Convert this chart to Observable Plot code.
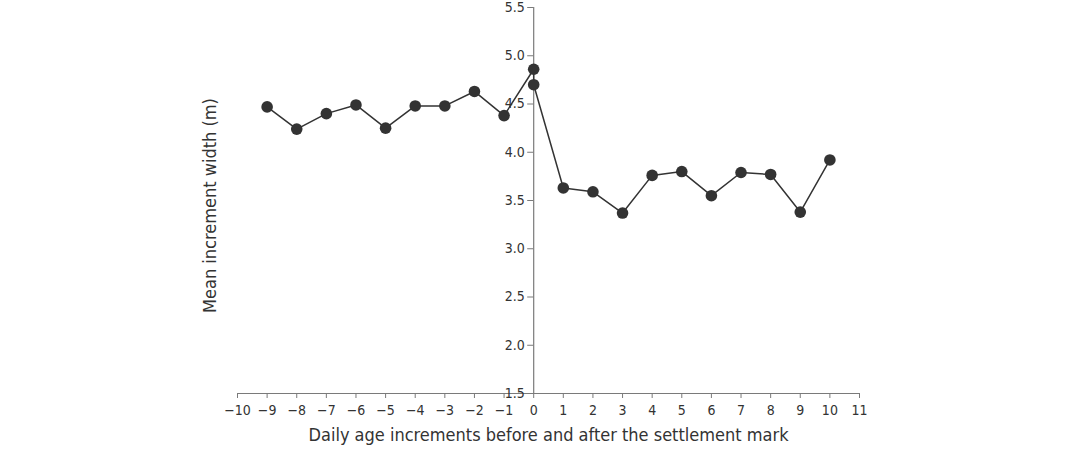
<!DOCTYPE html>
<html>
<head>
<meta charset="utf-8">
<script src="https://cdn.jsdelivr.net/npm/d3@7"></script>
<script src="https://cdn.jsdelivr.net/npm/@observablehq/plot@0.6"></script>
<style>
  html, body { margin: 0; padding: 0; background: #fff; }
  #chart svg { display: block; }
</style>
</head>
<body>
<div id="chart"></div>
<script>
const dayIncrement = [-9, -8, -7, -6, -5, -4, -3, -2, -1, 0, 0, 1, 2, 3, 4, 5, 6, 7, 8, 9, 10];
const meanWidth = [4.47, 4.24, 4.40, 4.49, 4.25, 4.48, 4.48, 4.63, 4.38, 4.86, 4.70, 3.63, 3.59, 3.37, 3.76, 3.80, 3.55, 3.79, 3.77, 3.38, 3.92];
const xTicks = d3.range(-10, 12, 1);
const yTicks = [1.5, 2.0, 2.5, 3.0, 3.5, 4.0, 4.5, 5.0, 5.5];
const xTitle = "Daily age increments before and after the settlement mark";
const yTitle = "Mean increment width (m)";

const data = dayIncrement.map((d, i) => ({x: d, y: meanWidth[i]}));

const font = "'Liberation Sans Narrow', 'DejaVu Sans Condensed', 'Roboto Condensed', sans-serif";
const ink = "#333";
const axisGray = "#7a7a7a";

const chart = Plot.plot({
  width: 1065,
  height: 463,
  marginLeft: 237,
  marginRight: 206,
  marginTop: 7,
  marginBottom: 70,
  style: {fontFamily: font, fontSize: "14px", color: ink, background: "#fff"},
  x: {domain: [-10, 11], axis: null},
  y: {domain: [1.5, 5.5], axis: null},
  marks: [
    Plot.ruleY([1.5], {stroke: axisGray, strokeWidth: 1.2}),
    Plot.ruleX([0], {y1: 1.5, y2: 5.5, stroke: axisGray, strokeWidth: 1.2}),
    Plot.axisX(xTicks, {anchor: "bottom", tickSize: 5, tickPadding: 7, stroke: axisGray, fill: ink, label: null, tickFormat: d3.format("d"), fontSize: 14}),
    Plot.axisY(yTicks, {x: 0, anchor: "left", tickSize: 6, tickPadding: 3, stroke: axisGray, fill: ink, label: null, tickFormat: d3.format(".1f"), fontSize: 14}),
    Plot.line(data, {x: "x", y: "y", stroke: ink, strokeWidth: 1.5}),
    Plot.dot(data, {x: "x", y: "y", r: 5.8, fill: ink, stroke: "none"}),
    Plot.text([xTitle], {frameAnchor: "bottom", textAnchor: "middle", dy: 42, lineAnchor: "middle", fontSize: 18, fill: ink}),
    Plot.text([yTitle], {frameAnchor: "left", textAnchor: "middle", rotate: -90, dx: -27, dy: 5, lineAnchor: "middle", fontSize: 18, fill: ink})
  ]
});
document.getElementById("chart").appendChild(chart);
</script>
</body>
</html>
